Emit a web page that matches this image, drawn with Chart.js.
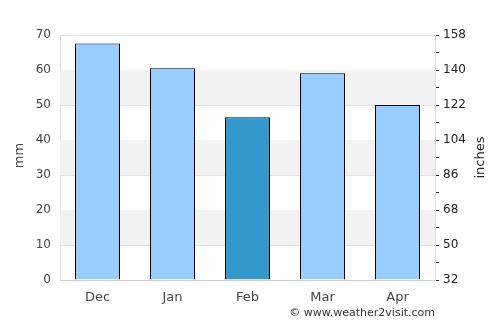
<!DOCTYPE html>
<html>
<head>
<meta charset="utf-8">
<script src="https://cdn.jsdelivr.net/npm/chart.js@4"></script>
<style>
  html, body { margin: 0; padding: 0; background: #fff; }
  #wrap { width: 500px; height: 325px; }
</style>
</head>
<body>
<div id="wrap"><canvas id="grafico"></canvas></div>
<script>
// dados
const meses = ["Dec", "Jan", "Feb", "Mar", "Apr"]
const chuvaMm = [67.6, 60.5, 46.5, 59.1, 50]
const coresBarras = ["#99ccff", "#99ccff", "#3399cc", "#99ccff", "#99ccff"]
const ticksDireita = [32, 50, 68, 86, 104, 122, 140, 158]

const fonte = "'DejaVu Sans', sans-serif"

/* faixas cinzas alternadas no fundo */
const faixas = {
  id: "faixas",
  beforeDatasetsDraw(chart) {
    const ctx = chart.ctx
    const y = chart.scales.y
    const area = chart.chartArea
    ctx.save()
    ctx.fillStyle = "#f2f2f2"
    for (let v = 10; v < 70; v += 20) {
      const topo = y.getPixelForValue(v + 10)
      const base = y.getPixelForValue(v)
      ctx.fillRect(area.left, topo, area.right - area.left, base - topo)
    }
    ctx.restore()
  }
}

/* títulos dos eixos (os dois lidos de baixo pra cima) e crédito */
const textos = {
  id: "textos",
  afterDraw(chart) {
    const ctx = chart.ctx
    const area = chart.chartArea
    const meio = (area.top + area.bottom) / 2
    ctx.save()
    ctx.font = "13px " + fonte
    ctx.textAlign = "center"
    ctx.textBaseline = "middle"

    ctx.save()
    ctx.translate(20, meio - 2)
    ctx.rotate(-Math.PI / 2)
    ctx.fillStyle = "#444"
    ctx.fillText("mm", 0, 0)
    ctx.restore()

    ctx.save()
    ctx.translate(481, meio)
    ctx.rotate(-Math.PI / 2)
    ctx.fillStyle = "#222"
    ctx.fillText("inches", 0, 0)
    ctx.restore()

    ctx.font = "11px " + fonte
    ctx.fillStyle = "#333"
    ctx.textAlign = "right"
    ctx.fillText("© www.weather2visit.com", area.right, 313)
    ctx.restore()
  }
}

const grafico = new Chart(document.getElementById("grafico"), {
  type: "bar",
  data: {
    labels: meses,
    datasets: [{
      label: "mm",
      data: chuvaMm,
      backgroundColor: coresBarras,
      borderColor: "#000",
      borderWidth: 1,
      barPercentage: 0.6,
      categoryPercentage: 1,
      yAxisID: "y"
    }]
  },
  options: {
    responsive: true,
    maintainAspectRatio: false,
    animation: false,
    layout: { padding: { top: 35, left: 0, right: 0, bottom: 0 } },
    plugins: { legend: { display: false }, tooltip: { enabled: false } },
    scales: {
      x: {
        grid: { display: false },
        border: { color: "#cccccc" },
        ticks: { color: "#444", font: { family: fonte, size: 13 }, padding: 2 },
        afterFit(s) { s.height = 45 }
      },
      y: {
        position: "left",
        min: 0, max: 70,
        ticks: { stepSize: 10, color: "#444", font: { family: fonte, size: 12 }, padding: 9 },
        grid: { color: "#e0e0e0", drawTicks: false },
        border: { color: "#dddddd" },
        afterFit(s) { s.width = 60 }
      },
      y2: {
        position: "right",
        min: 32, max: 158,
        afterBuildTicks(s) {
          const lista = []
          for (let i = 0; i < ticksDireita.length; i++) {
            lista.push({ value: ticksDireita[i] })
            if (i < ticksDireita.length - 1) lista.push({ value: (ticksDireita[i] + ticksDireita[i + 1]) / 2, minor: true })
          }
          s.ticks = lista
        },
        ticks: {
          color: "#222",
          font: { family: fonte, size: 12 },
          padding: 4,
          callback: (v) => ticksDireita.includes(v) ? String(v) : ""
        },
        grid: { drawOnChartArea: false, color: "#333", tickLength: 4 },
        border: { color: "#dddddd" },
        afterFit(s) { s.width = 65 }
      }
    }
  },
  plugins: [faixas, textos]
})
</script>
</body>
</html>
